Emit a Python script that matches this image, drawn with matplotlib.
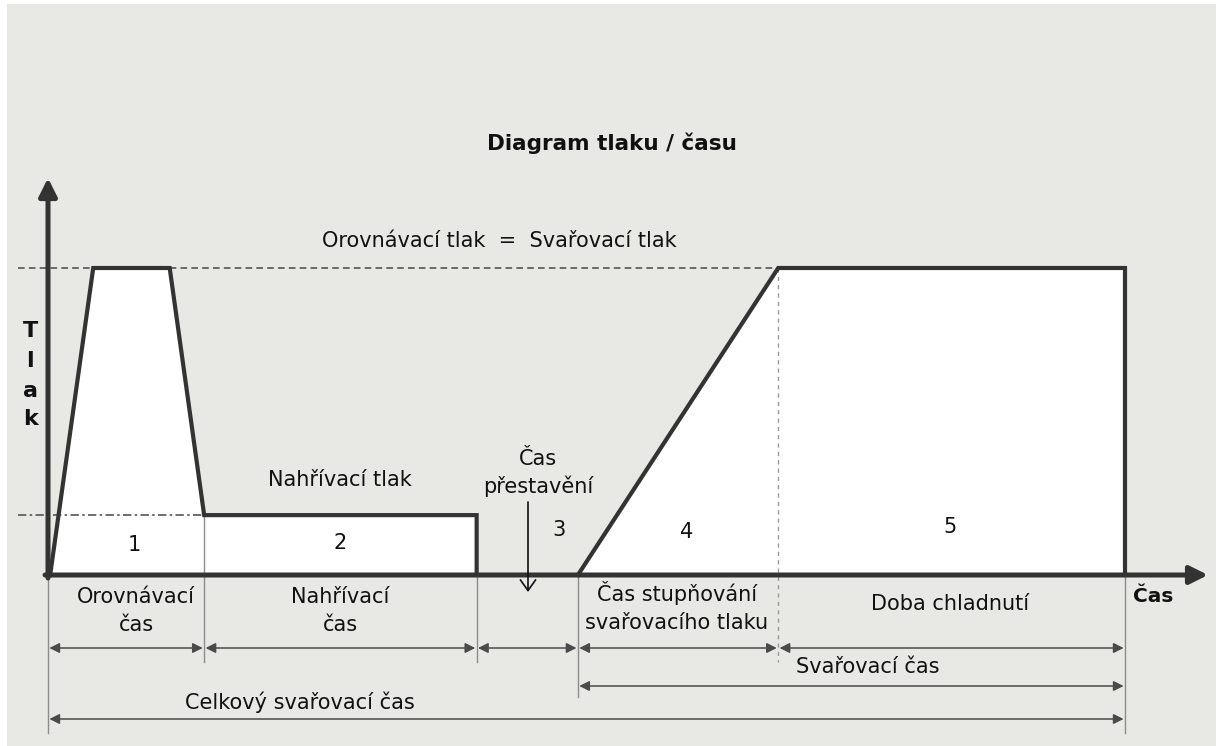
import matplotlib.pyplot as plt
from matplotlib.patches import Polygon, Rectangle

plt.rcParams['font.family'] = ['DejaVu Sans']

# pressure profile
# time: 0 .. 100 (end of cooling), pressure: 0 .. 100 (= welding pressure)
t_align = [0.2, 4.2, 11.3, 14.5, 39.8, 39.8]
p_align = [0.0, 100, 100, 19.5, 19.5, 0.0]
t_weld = [49.2, 67.8, 100, 100]
p_weld = [0.0, 100, 100, 0.0]
weld_pressure = 100
heat_pressure = 19.5

# phase borders on the time axis
phase_edges = [0, 14.5, 39.8, 49.2, 67.8, 100]
phase_numbers = ['1', '2', '3', '4', '5']
phase_names = ['Orovnávací\nčas', 'Nahřívací\nčas', '',
               'Čas stupňování\nsvařovacího tlaku', 'Doba chladnutí']

# layout: pixel position of the origin and pixels per unit
W, H = 1216, 746
OX, OY = 48, 575
SX, SY = 10.77, 3.07


def at(x, y):
    # pixel position of a label -> data coordinates
    return (x - OX) / SX, (OY - y) / SY


DARK = '#333333'
GREY = '#8c8c8c'
ARR = '#4a4a4a'

fig = plt.figure(figsize=(W / 100, H / 100), dpi=100)
fig.patch.set_facecolor('white')
ax = fig.add_axes([0, 0, 1, 1])
ax.set_facecolor('none')
ax.set_xlim(at(0, 0)[0], at(W, 0)[0])
ax.set_ylim(at(0, H)[1], at(0, 0)[1])
ax.axis('off')
# grey background, leaving a thin white strip at the left and top
ax.add_patch(Rectangle((7 / W, 0), 1, (H - 4) / H, transform=ax.transAxes,
                       facecolor='#e8e8e4', edgecolor='none', zorder=0))

# white areas under the curve
ax.add_patch(Polygon(list(zip(t_align, p_align)), closed=True, facecolor='white', edgecolor='none', zorder=1))
ax.add_patch(Polygon(list(zip(t_weld, p_weld)), closed=True, facecolor='white', edgecolor='none', zorder=1))

# dashed pressure levels
x_left = at(18, 0)[0]
ax.plot([x_left, t_weld[1]], [weld_pressure, weld_pressure], color='#555555', lw=1.2,
        dashes=(4, 2.5), zorder=2)
ax.plot([x_left, t_align[3]], [heat_pressure, heat_pressure], color='#555555', lw=1.2,
        dashes=(5, 2, 1.5, 2), zorder=2)

# separators between the phases
row1 = at(0, 648)[1]
row2 = at(0, 686)[1]
row3 = at(0, 719)[1]
low = at(0, 662)[1]
ax.plot([phase_edges[0]] * 2, [0, at(0, 733)[1]], color=GREY, lw=1, zorder=2)
ax.plot([phase_edges[1]] * 2, [heat_pressure, low], color=GREY, lw=1, zorder=2)
ax.plot([phase_edges[2]] * 2, [0, low], color=GREY, lw=1, zorder=2)
ax.plot([phase_edges[3]] * 2, [0, at(0, 697)[1]], color=GREY, lw=1, zorder=2)
ax.plot([phase_edges[4]] * 2, [weld_pressure, low], color='#9a9a9a', lw=1, dashes=(3, 3), zorder=2)
ax.plot([phase_edges[5]] * 2, [0, at(0, 733)[1]], color=GREY, lw=1, zorder=2)

# pressure curve
ax.plot(t_align, p_align, color=DARK, lw=3, solid_joinstyle='miter', zorder=4)
ax.plot(t_weld, p_weld, color=DARK, lw=3, solid_joinstyle='miter', zorder=4)

# axes with arrow heads
ax.annotate('', xy=at(1208, OY), xytext=at(45, OY),
            arrowprops=dict(arrowstyle='-|>', color=DARK, lw=3.6, mutation_scale=27,
                            shrinkA=0, shrinkB=0), zorder=5)
ax.annotate('', xy=at(OX, 178), xytext=at(OX, 578),
            arrowprops=dict(arrowstyle='-|>', color=DARK, lw=3.6, mutation_scale=27,
                            shrinkA=0, shrinkB=0), zorder=5)


def dim(t0, t1, y):
    ax.annotate('', xy=(t1, y), xytext=(t0, y),
                arrowprops=dict(arrowstyle='<|-|>', color=ARR, lw=1.1, mutation_scale=15,
                                shrinkA=1, shrinkB=1), zorder=3)


for a, b in zip(phase_edges[:-1], phase_edges[1:]):
    dim(a, b, row1)
dim(phase_edges[3], phase_edges[5], row2)
dim(phase_edges[0], phase_edges[5], row3)

# texts
FS = 15
ax.text(*at(612, 150), 'Diagram tlaku / času', ha='center', va='baseline',
        fontsize=15.5, fontweight='bold', color='#111111')
ax.text(*at(499, 247), 'Orovnávací tlak  =  Svařovací tlak', ha='center', va='baseline',
        fontsize=FS, color='#111111')
for ch, yb in zip('Tlak', [337, 367, 397, 425]):
    ax.text(*at(30, yb), ch, ha='center', va='baseline', fontsize=16,
            fontweight='bold', color='#111111')
ax.text(*at(1153, 597), 'Čas', ha='center', va='center', fontsize=14.5,
        fontweight='bold', color='#111111')
ax.text(*at(340, 480), 'Nahřívací tlak', ha='center', va='center', fontsize=FS, color='#111111')
ax.text(*at(538, 473), 'Čas\npřestavění', ha='center', va='center', fontsize=FS,
        linespacing=1.4, color='#111111')
ax.annotate('', xy=at(528, 592), xytext=at(528, 502),
            arrowprops=dict(arrowstyle='->, head_length=0.35, head_width=0.25', color='#111111',
                            lw=1.2, mutation_scale=22, shrinkA=0, shrinkB=0), zorder=5)

num_pos = [(134, 545), (340, 543), (559, 530), (687, 532), (950, 527)]
for s, (x, y) in zip(phase_numbers, num_pos):
    ax.text(*at(x, y), s, ha='center', va='center', fontsize=FS, color='#111111', zorder=6)

name_pos = [(136, 611), (340, 611), (677, 607), (950, 604)]
for s, (x, y) in zip([n for n in phase_names if n], name_pos):
    ax.text(*at(x, y), s, ha='center', va='center', fontsize=FS, linespacing=1.5,
            color='#111111')

ax.text(*at(868, 667), 'Svařovací čas', ha='center', va='center', fontsize=FS, color='#111111')
ax.text(*at(300, 702), 'Celkový svařovací čas', ha='center', va='center', fontsize=FS,
        color='#111111')

fig.savefig('out.png', dpi=100)
